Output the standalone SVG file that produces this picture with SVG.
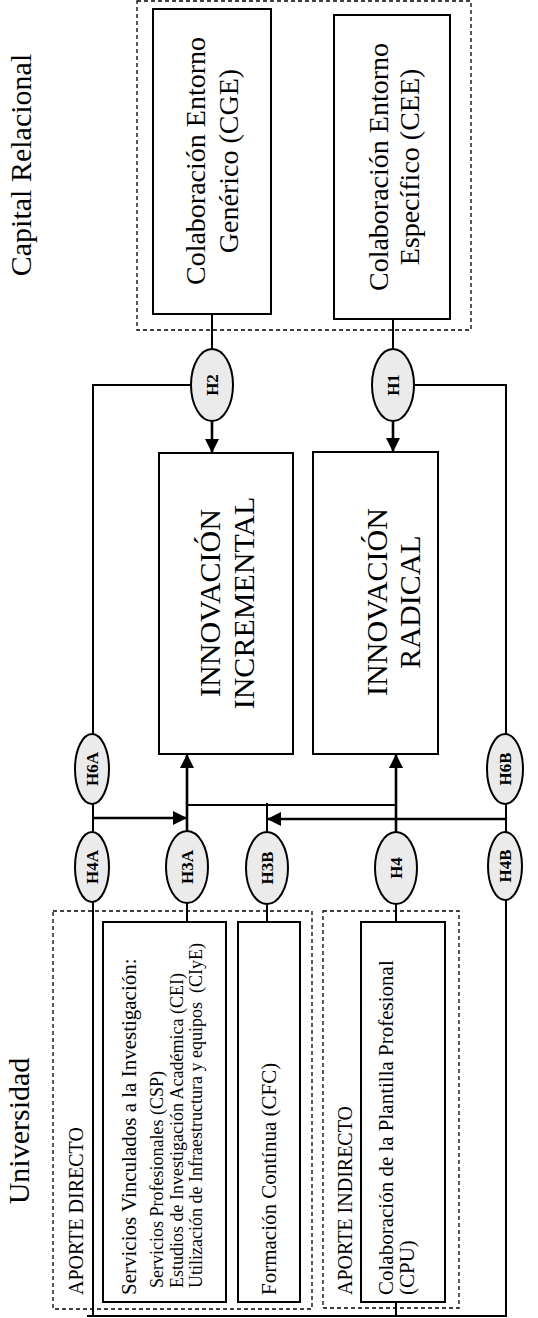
<svg xmlns="http://www.w3.org/2000/svg" width="538" height="1318" viewBox="0 0 538 1318">
<defs>
<style>
.t{font-family:"Liberation Serif","Times New Roman",serif;fill:#000}
.box{fill:#fff;stroke:#000;stroke-width:2}
.dash{fill:none;stroke:#000;stroke-width:1.3;stroke-dasharray:4 3}
.ell{fill:#ebebeb;stroke:#000;stroke-width:2}
.hl{font-family:"Liberation Serif","Times New Roman",serif;font-weight:bold;font-size:17px;text-anchor:middle}
.ln{fill:none;stroke:#000;stroke-width:2}
.ar{fill:none;stroke:#000;stroke-width:2.6;marker-end:url(#ah)}
</style>
<marker id="ah" viewBox="0 0 10 10" refX="10" refY="5" markerUnits="userSpaceOnUse" markerWidth="14" markerHeight="14" orient="auto">
<path d="M0,0 L10,5 L0,10 z" fill="#000"/>
</marker>
</defs>
<rect width="538" height="1318" fill="#fff"/>

<g id="titles">
<text class="t" font-size="30" text-anchor="middle" transform="translate(31,165) rotate(-90)">Capital Relacional</text>
<text class="t" font-size="30" text-anchor="middle" transform="translate(29,1131) rotate(-90)">Universidad</text>
</g>

<g id="capital-group">
<rect class="dash" x="137" y="1" width="334" height="329"/>
</g>
<g id="cge">
<rect class="box" x="153" y="9" width="118" height="305"/>
<text class="t" font-size="28" text-anchor="middle" transform="translate(205,161) rotate(-90)">Colaboración Entorno</text>
<text class="t" font-size="28" text-anchor="middle" transform="translate(238,161) rotate(-90)">Genérico (CGE)</text>
</g>
<g id="cee">
<rect class="box" x="334" y="15" width="116" height="304"/>
<text class="t" font-size="28" text-anchor="middle" transform="translate(388,167) rotate(-90)">Colaboración Entorno</text>
<text class="t" font-size="28" text-anchor="middle" transform="translate(419,167) rotate(-90)">Específico (CEE)</text>
</g>

<g id="inc">
<rect class="box" x="159" y="453" width="134" height="301"/>
<text class="t" font-size="30" text-anchor="middle" transform="translate(220,603) rotate(-90)">INNOVACIÓN</text>
<text class="t" font-size="30" text-anchor="middle" transform="translate(254,603) rotate(-90)">INCREMENTAL</text>
</g>
<g id="rad">
<rect class="box" x="313" y="452" width="125" height="302"/>
<text class="t" font-size="30" text-anchor="middle" transform="translate(387,602) rotate(-90)">INNOVACIÓN</text>
<text class="t" font-size="30" text-anchor="middle" transform="translate(420,602) rotate(-90)">RADICAL</text>
</g>

<g id="connectors">
<line class="ln" x1="212" y1="314" x2="212" y2="349"/>
<line class="ln" x1="393" y1="319" x2="393" y2="349"/>
<line class="ar" x1="212" y1="421" x2="212" y2="453"/>
<line class="ar" x1="393" y1="421" x2="393" y2="452"/>
<polyline class="ln" points="191,385 93,385 93,1316"/>
<polyline class="ln" points="414,385 506,385 506,1316"/>
<line class="ln" x1="87" y1="1316" x2="507" y2="1316"/>
<line class="ar" x1="187" y1="831" x2="187" y2="754"/>
<line class="ar" x1="396" y1="832" x2="396" y2="754"/>
<line class="ar" x1="93" y1="818" x2="187" y2="818"/>
<line class="ar" x1="506" y1="819" x2="267" y2="819"/>
<line class="ln" stroke-width="1.6" x1="187" y1="805" x2="396" y2="805"/>
<line class="ln" stroke-width="1.6" x1="267" y1="803" x2="267" y2="832"/>
<line class="ln" x1="187" y1="903" x2="187" y2="922"/>
<line class="ln" x1="267" y1="904" x2="267" y2="922"/>
<line class="ln" x1="396" y1="904" x2="396" y2="922"/>
<line class="ln" x1="396" y1="1302" x2="396" y2="1316"/>
</g>

<g id="H2"><ellipse class="ell" cx="212" cy="385" rx="21" ry="36"/><text class="hl" transform="translate(218,385) rotate(-90)">H2</text></g>
<g id="H1"><ellipse class="ell" cx="393" cy="385" rx="21" ry="36"/><text class="hl" transform="translate(399,385) rotate(-90)">H1</text></g>
<g id="H6A"><ellipse class="ell" cx="92" cy="769" rx="17" ry="35"/><text class="hl" transform="translate(98,769) rotate(-90)">H6A</text></g>
<g id="H6B"><ellipse class="ell" cx="505" cy="769" rx="18" ry="35"/><text class="hl" transform="translate(511,769) rotate(-90)">H6B</text></g>
<g id="H4A"><ellipse class="ell" cx="92" cy="867" rx="17" ry="35"/><text class="hl" transform="translate(98,867) rotate(-90)">H4A</text></g>
<g id="H3A"><ellipse class="ell" cx="187" cy="867" rx="21" ry="36"/><text class="hl" transform="translate(193,867) rotate(-90)">H3A</text></g>
<g id="H3B"><ellipse class="ell" cx="267" cy="868" rx="21" ry="36"/><text class="hl" transform="translate(273,868) rotate(-90)">H3B</text></g>
<g id="H4"><ellipse class="ell" cx="396" cy="868" rx="21" ry="36"/><text class="hl" transform="translate(402,868) rotate(-90)">H4</text></g>
<g id="H4B"><ellipse class="ell" cx="505" cy="866" rx="17" ry="34"/><text class="hl" transform="translate(511,866) rotate(-90)">H4B</text></g>

<g id="aporte-directo">
<rect class="dash" x="53" y="911" width="259" height="398"/>
<text class="t" font-size="20" transform="translate(83,1295) rotate(-90)">APORTE DIRECTO</text>
</g>
<g id="servicios">
<rect class="box" x="103" y="922" width="123" height="380"/>
<text class="t" font-size="21" transform="translate(136,1295) rotate(-90)">Servicios  Vinculados a la Investigación:</text>
<text class="t" font-size="18" transform="translate(163,1288) rotate(-90)">Servicios Profesionales (CSP)</text>
<text class="t" font-size="18" transform="translate(183,1288) rotate(-90)">Estudios de Investigación Académica (CEI)</text>
<text class="t" font-size="18" transform="translate(202,1288) rotate(-90)" xml:space="preserve">Utilización de Infraestructura y equipos  (CIyE)</text>
</g>
<g id="cfc">
<rect class="box" x="238" y="922" width="62" height="380"/>
<text class="t" font-size="21" transform="translate(276,1295) rotate(-90)">Formación Contínua (CFC)</text>
</g>
<g id="aporte-indirecto">
<rect class="dash" x="323" y="911" width="136" height="397"/>
<text class="t" font-size="20" transform="translate(352,1295) rotate(-90)">APORTE INDIRECTO</text>
</g>
<g id="cpu">
<rect class="box" x="361" y="922" width="84" height="380"/>
<text class="t" font-size="21" transform="translate(393,1295) rotate(-90)">Colaboración de la Plantilla Profesional</text>
<text class="t" font-size="21" transform="translate(414,1295) rotate(-90)">(CPU)</text>
</g>
</svg>
